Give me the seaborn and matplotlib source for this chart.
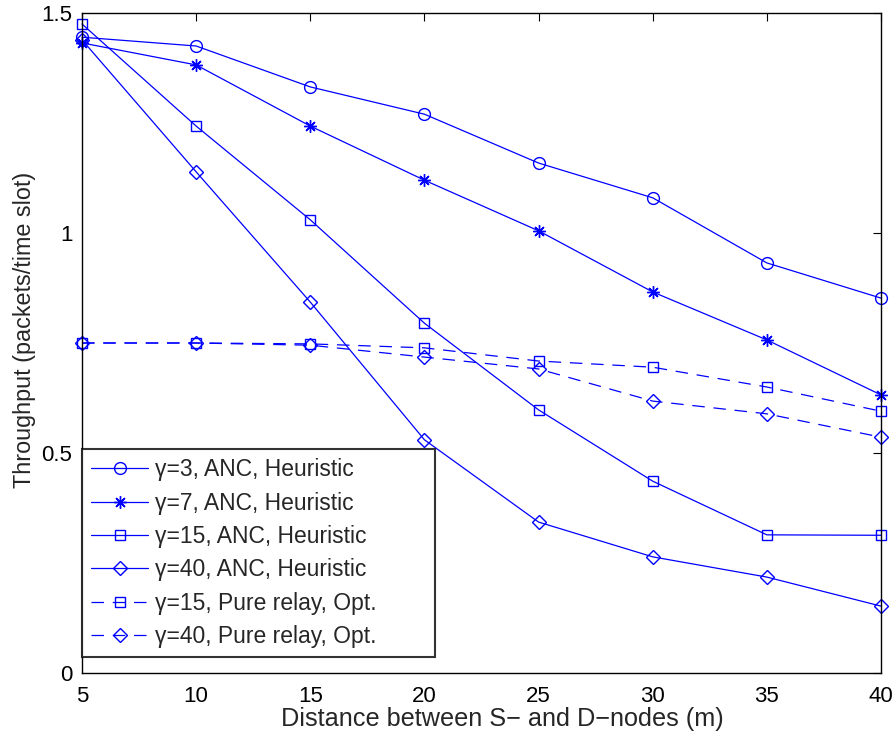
import matplotlib
matplotlib.use("Agg")
import matplotlib.pyplot as plt
import seaborn as sns
import pandas as pd

distance = [5, 10, 15, 20, 25, 30, 35, 40]
g3_anc = [1.445, 1.425, 1.332, 1.270, 1.159, 1.080, 0.932, 0.852]
g7_anc = [1.432, 1.382, 1.243, 1.120, 1.005, 0.866, 0.757, 0.632]
g15_anc = [1.475, 1.243, 1.030, 0.795, 0.598, 0.436, 0.314, 0.313]
g40_anc = [1.439, 1.139, 0.843, 0.530, 0.343, 0.264, 0.218, 0.152]
g15_relay = [0.750, 0.750, 0.748, 0.739, 0.709, 0.695, 0.650, 0.595]
g40_relay = [0.750, 0.750, 0.745, 0.718, 0.691, 0.618, 0.589, 0.536]

labels = ["γ=3, ANC, Heuristic", "γ=7, ANC, Heuristic", "γ=15, ANC, Heuristic",
          "γ=40, ANC, Heuristic", "γ=15, Pure relay, Opt.", "γ=40, Pure relay, Opt."]
series = [g3_anc, g7_anc, g15_anc, g40_anc, g15_relay, g40_relay]
markers = ["o", (8, 2, 0), "s", "D", "s", "D"]
msizes = [8.5, 9, 7, 7, 7, 7]
styles = ["-", "-", "-", "-", "--", "--"]

sns.set_style("white")
plt.rcParams['font.family'] = ['Liberation Sans', 'DejaVu Sans']

fig = plt.figure(figsize=(8.96, 7.34), dpi=100)
ax = fig.add_axes([82/896, 1-673/734, (881-82)/896, (673-13)/734])

for lab, vals, mk, ms, ls in zip(labels, series, markers, msizes, styles):
    df = pd.DataFrame({"x": distance, "y": vals})
    sns.lineplot(data=df, x="x", y="y", ax=ax, color="#0000ff", linewidth=0.9,
                 linestyle=ls, marker=mk, markersize=ms,
                 markerfacecolor="none", markeredgecolor="#0000ff",
                 markeredgewidth=1.0, label=lab, clip_on=False)

for line in ax.get_lines():
    if line.get_linestyle() == "--":
        line.set_dashes((10, 7))

ax.set_xlim(5, 40)
ax.set_ylim(0, 1.5)
ax.set_xticks([5, 10, 15, 20, 25, 30, 35, 40])
ax.set_yticks([0, 0.5, 1, 1.5])
ax.set_yticklabels(["0", "0.5", "1", "1.5"])
ax.tick_params(direction="in", length=6, width=0.8, top=True, right=True,
               labelsize=16, colors="black")
ax.tick_params(axis="x", pad=9)
ax.tick_params(axis="y", pad=7)
for s in ax.spines.values():
    s.set_linewidth(1.0)
    s.set_color("black")
ax.set_xlabel("Distance between S\u2212 and D\u2212nodes (m)", fontsize=18.2, va="center")
ax.set_ylabel("Throughput (packets/time slot)", fontsize=16.8, va="center")
ax.xaxis.set_label_coords((502 - 82) / 799, (673 - 719) / 660)
ax.yaxis.set_label_coords((24 - 82) / 799, (673 - 330) / 660)

leg = ax.legend(loc="lower left", bbox_to_anchor=(0.0, 16 / 660, (435 - 82) / 799, 0.3),
                mode="expand", fontsize=16.5,
                frameon=True, fancybox=False, edgecolor="black",
                handlelength=2.5, handletextpad=0.3, borderpad=0.4,
                labelspacing=0.45, borderaxespad=0)
leg.get_frame().set_linewidth(1.5)
leg.set_zorder(5)

fig.savefig("out.png", dpi=100)
